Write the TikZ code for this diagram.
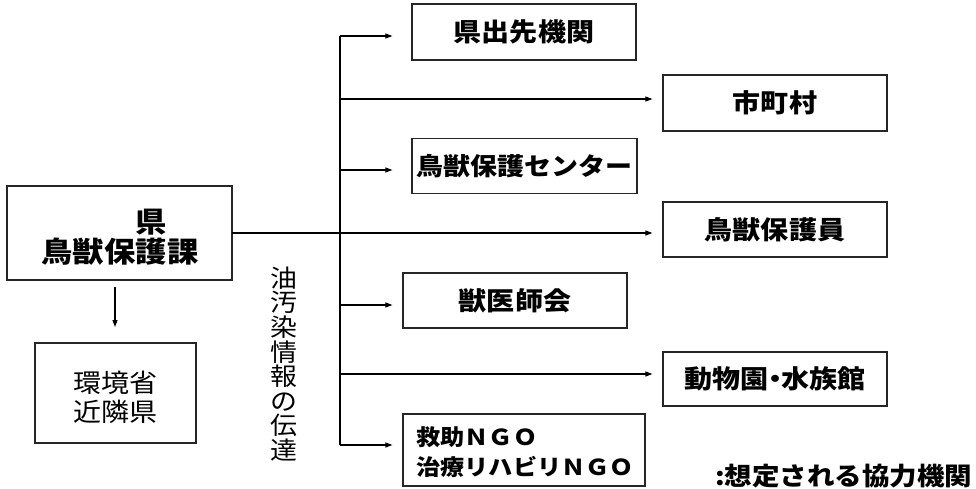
\documentclass[tikz,border=0pt]{standalone}
\usepackage{fontspec}
\setmainfont{Noto Sans CJK JP}
\newfontfamily\jpw{Noto Sans CJK JP}[FakeStretch=1.1]
\usetikzlibrary{arrows.meta}
\begin{document}
\begin{tikzpicture}[x=1pt,y=-1pt,
  box/.style={draw=black!85,line width=1.2pt,inner sep=0pt},
  lbl/.style={font=\jpw\bfseries\fontsize{25.5}{30}\selectfont},
  conn/.style={line width=1.1pt,-{Triangle[length=7pt,width=5pt]}},
  plain/.style={line width=1.1pt}]
\useasboundingbox (0,0) rectangle (976,488);
% main box
\draw[box] (7,186) rectangle (232,280);
\node[inner sep=0pt] (ken) at (119.5,233) {};
\coordinate (kenE) at (232,233);
\node[font=\jpw\bfseries\fontsize{28.5}{30}\selectfont,align=center,inner sep=0pt] at (120,237) {　　県\\鳥獣保護課};
% kankyo box
\draw[box] (35,343) rectangle (196,443);
\node[inner sep=0pt] (kankyo) at (115.5,393) {};
\node[font=\jpw\fontsize{25.5}{29}\selectfont,align=center,inner sep=0pt] at (115.5,397) {環境省\\近隣県};
\draw[conn] (115,287) -- (115,327);
% vertical text
\node[font=\jpw\fontsize{24.5}{24.6}\selectfont,align=center,inner sep=0pt] (vt) at (284,364) {油\\汚\\染\\情\\報\\の\\伝\\達};
% right boxes
\node[box,lbl,minimum width=224pt,minimum height=56pt] (n1) at (524,32) {県出先機関};
\node[box,lbl,minimum width=224pt,minimum height=56pt] (n2) at (775,103) {市町村};
\node[box,lbl,font=\jpw\bfseries\fontsize{24.5}{30}\selectfont,minimum width=225pt,minimum height=55pt] (n3) at (524.5,166) {鳥獣保護センター};
\node[box,lbl,minimum width=224pt,minimum height=55pt] (n4) at (775,229.5) {鳥獣保護員};
\node[box,lbl,minimum width=224pt,minimum height=55pt] (n5) at (515,300.5) {獣医師会};
\node[box,lbl,minimum width=224pt,minimum height=54pt] (n6) at (775,379) {動物園\hspace{-0.3em}・\hspace{-0.3em}水族館};
\node[box,minimum width=242pt,minimum height=72pt] (n7) at (524,450) {};
\node[font=\jpw\bfseries\fontsize{22}{30}\selectfont,align=left,anchor=west,inner sep=0pt] at (416,452) {救助ＮＧＯ\\治療リハビリＮＧＯ};
% trunk
\coordinate (b1) at (340,36);
\coordinate (b2) at (340,99);
\coordinate (b3) at (340,170);
\coordinate (b5) at (340,305);
\coordinate (b6) at (340,374);
\coordinate (b7) at (340,445);
\draw[plain] (b1) -- (b7);
\draw[conn,shorten >=10pt] (kenE) -- (kenE -| n4.west);
\draw[conn,shorten >=19pt] (b1) -- (b1 -| n1.west);
\draw[conn,shorten >=10pt] (b2) -- (b2 -| n2.west);
\draw[conn,shorten >=19pt] (b3) -- (b3 -| n3.west);
\draw[conn,shorten >=10pt] (b5) -- (b5 -| n5.west);
\draw[conn,shorten >=10pt] (b6) -- (b6 -| n6.west);
\draw[conn,shorten >=10pt] (b7) -- (b7 -| n7.west);
% legend
\node[font=\jpw\bfseries\fontsize{25}{28}\selectfont,anchor=west,inner sep=0pt] (legend) at (715,476) {:想定される協力機関};
\end{tikzpicture}
\end{document}
